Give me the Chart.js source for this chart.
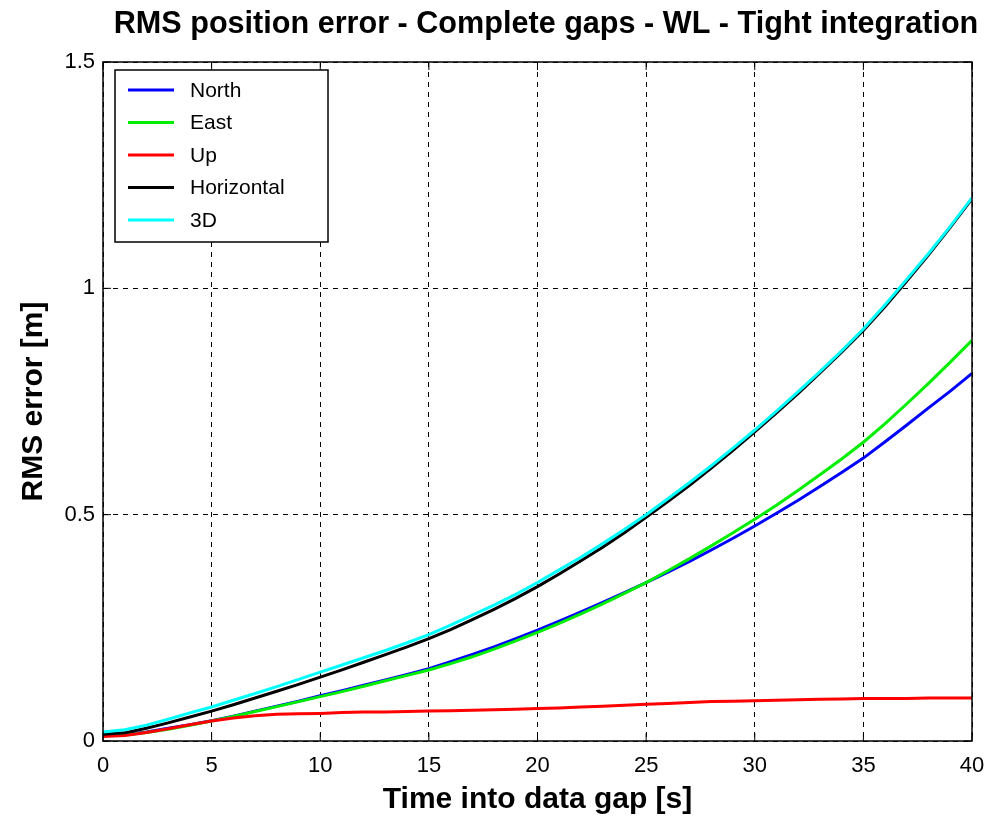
<!DOCTYPE html>
<html>
<head>
<meta charset="utf-8">
<script src="https://cdn.jsdelivr.net/npm/chart.js@4/dist/chart.umd.min.js"></script>
<style>
  html, body { margin: 0; padding: 0; background: #fff; }
  #wrap { width: 990px; height: 823px; }
</style>
</head>
<body>
<div id="wrap"><canvas id="rms-Chart"></canvas></div>
<script>
// time into data gap [s]
const times = [0,1,2,3,4,5,6,7,8,9,10,11,12,13,14,15,16,17,18,19,20,
  21,22,23,24,25,26,27,28,29,30,31,32,33,34,35,36,37,38,39,40];

const north = [0.012,0.014,0.020,0.028,0.036,0.045,0.055,0.066,0.077,0.088,0.100,
  0.111,0.123,0.135,0.147,0.160,0.175,0.191,0.208,0.226,0.245,
  0.265,0.285,0.306,0.328,0.350,0.373,0.397,0.422,0.448,0.475,
  0.503,0.532,0.562,0.593,0.625,0.661,0.698,0.736,0.773,0.812];

const east = [0.012,0.013,0.019,0.026,0.035,0.044,0.054,0.065,0.076,0.087,0.098,
  0.109,0.121,0.133,0.145,0.157,0.171,0.186,0.203,0.221,0.240,
  0.260,0.281,0.303,0.326,0.350,0.376,0.403,0.431,0.460,0.490,
  0.521,0.554,0.588,0.623,0.660,0.701,0.745,0.790,0.837,0.885];

const up = [0.010,0.012,0.019,0.027,0.036,0.044,0.051,0.056,0.059,0.060,0.061,
  0.063,0.064,0.064,0.065,0.066,0.067,0.068,0.069,0.070,0.072,
  0.073,0.075,0.077,0.079,0.081,0.083,0.085,0.087,0.088,0.089,
  0.090,0.091,0.092,0.093,0.094,0.094,0.094,0.095,0.095,0.095];

const horizontal = [0.015,0.018,0.028,0.040,0.053,0.066,0.080,0.095,0.110,0.125,0.141,
  0.157,0.174,0.191,0.208,0.226,0.246,0.268,0.291,0.315,0.341,
  0.369,0.398,0.428,0.460,0.494,0.529,0.565,0.603,0.642,0.683,
  0.725,0.768,0.813,0.859,0.907,0.960,1.016,1.074,1.135,1.198];

const threeD = [0.020,0.025,0.035,0.048,0.062,0.075,0.090,0.105,0.120,0.136,0.152,
  0.168,0.184,0.200,0.217,0.235,0.256,0.278,0.300,0.324,0.350,
  0.378,0.406,0.436,0.467,0.500,0.535,0.571,0.608,0.647,0.687,
  0.729,0.772,0.816,0.862,0.910,0.964,1.020,1.077,1.137,1.200];

const xTicks = [0,5,10,15,20,25,30,35,40];
const yTicks = [0,0.5,1,1.5];
const chartTitle = "RMS position error - Complete gaps - WL - Tight integration";

const toPoints = (ys) => times.map((t, i) => ({ x: t, y: ys[i] }));
const FONT = "'Liberation Sans', Arial, sans-serif";

// タイトル・枠・内向き目盛り・凡例を描くプラグイン
const framePlugin = {
  id: "frame",
  beforeDraw(chart) {
    const { ctx } = chart;
    ctx.save();
    ctx.font = "bold 30.6px " + FONT;
    ctx.fillStyle = "#000";
    ctx.textAlign = "center";
    ctx.textBaseline = "alphabetic";
    ctx.fillText(chartTitle, 546, 33);
    ctx.restore();
  },
  afterDatasetsDraw(chart) {
    const { ctx, chartArea: { left, right, top, bottom }, scales: { x, y } } = chart;
    ctx.save();
    ctx.strokeStyle = "#000";
    ctx.lineWidth = 1.5;
    ctx.strokeRect(left, top, right - left, bottom - top);
    ctx.lineWidth = 1;
    ctx.beginPath();
    xTicks.forEach((v) => {
      const px = x.getPixelForValue(v);
      ctx.moveTo(px, bottom); ctx.lineTo(px, bottom - 8);
      ctx.moveTo(px, top); ctx.lineTo(px, top + 8);
    });
    yTicks.forEach((v) => {
      const py = y.getPixelForValue(v);
      ctx.moveTo(left, py); ctx.lineTo(left + 8, py);
      ctx.moveTo(right, py); ctx.lineTo(right - 8, py);
    });
    ctx.stroke();

    // 凡例
    const bx = left + 12, by = top + 8, bw = 213, bh = 172;
    ctx.fillStyle = "#fff";
    ctx.fillRect(bx, by, bw, bh);
    ctx.lineWidth = 1.5;
    ctx.strokeRect(bx, by, bw, bh);
    ctx.font = "21px " + FONT;
    ctx.textBaseline = "middle";
    chart.data.datasets.forEach((ds, i) => {
      const ly = by + 20 + i * 32.5;
      ctx.strokeStyle = ds.borderColor;
      ctx.lineWidth = 3;
      ctx.beginPath();
      ctx.moveTo(bx + 13, ly); ctx.lineTo(bx + 59, ly);
      ctx.stroke();
      ctx.fillStyle = "#000";
      ctx.fillText(ds.label, bx + 75, ly + 1);
    });
    ctx.restore();
  },
};

new Chart(document.getElementById("rms-Chart"), {
  type: "line",
  data: {
    datasets: [
      { label: "North", data: toPoints(north), borderColor: "#0000ff", order: 5 },
      { label: "East", data: toPoints(east), borderColor: "#00ee00", order: 4 },
      { label: "Up", data: toPoints(up), borderColor: "#ff0000", order: 3 },
      { label: "Horizontal", data: toPoints(horizontal), borderColor: "#000000", order: 2 },
      { label: "3D", data: toPoints(threeD), borderColor: "#00ffff", order: 1 },
    ].map((d) => ({ ...d, borderWidth: 3, pointRadius: 0, tension: 0, fill: false })),
  },
  options: {
    responsive: true,
    maintainAspectRatio: false,
    animation: false,
    layout: { padding: { top: 62, right: 18, bottom: 0, left: 0 } },
    plugins: {
      legend: { display: false },
      tooltip: { enabled: false },
      title: { display: false },
    },
    scales: {
      x: {
        type: "linear",
        min: 0,
        max: 40,
        afterBuildTicks: (axis) => { axis.ticks = xTicks.map((v) => ({ value: v })); },
        afterFit: (axis) => {
          axis.height = 82;
          axis.paddingLeft = 0;
          axis.paddingRight = 0;
        },
        grid: { color: "#000", lineWidth: 1, drawTicks: false },
        border: { display: false, dash: [5, 5] },
        ticks: {
          color: "#000",
          padding: 12,
          maxRotation: 0,
          font: { family: FONT, size: 22 },
        },
        title: {
          display: true,
          text: "Time into data gap [s]",
          color: "#000",
          padding: { top: 0, bottom: 5 },
          font: { family: FONT, size: 30, weight: "bold" },
        },
      },
      y: {
        type: "linear",
        min: 0,
        max: 1.5,
        afterBuildTicks: (axis) => { axis.ticks = yTicks.map((v) => ({ value: v })); },
        afterFit: (axis) => {
          axis.width = 103;
          axis.paddingTop = 0;
          axis.paddingBottom = 0;
        },
        grid: { color: "#000", lineWidth: 1, drawTicks: false },
        border: { display: false, dash: [5, 5] },
        ticks: {
          color: "#000",
          padding: 8,
          callback: (v) => String(v),
          font: { family: FONT, size: 22 },
        },
        title: {
          display: true,
          text: "RMS error [m]",
          color: "#000",
          padding: { top: 16, bottom: 10 },
          font: { family: FONT, size: 30, weight: "bold" },
        },
      },
    },
  },
  plugins: [framePlugin],
});
</script>
</body>
</html>
